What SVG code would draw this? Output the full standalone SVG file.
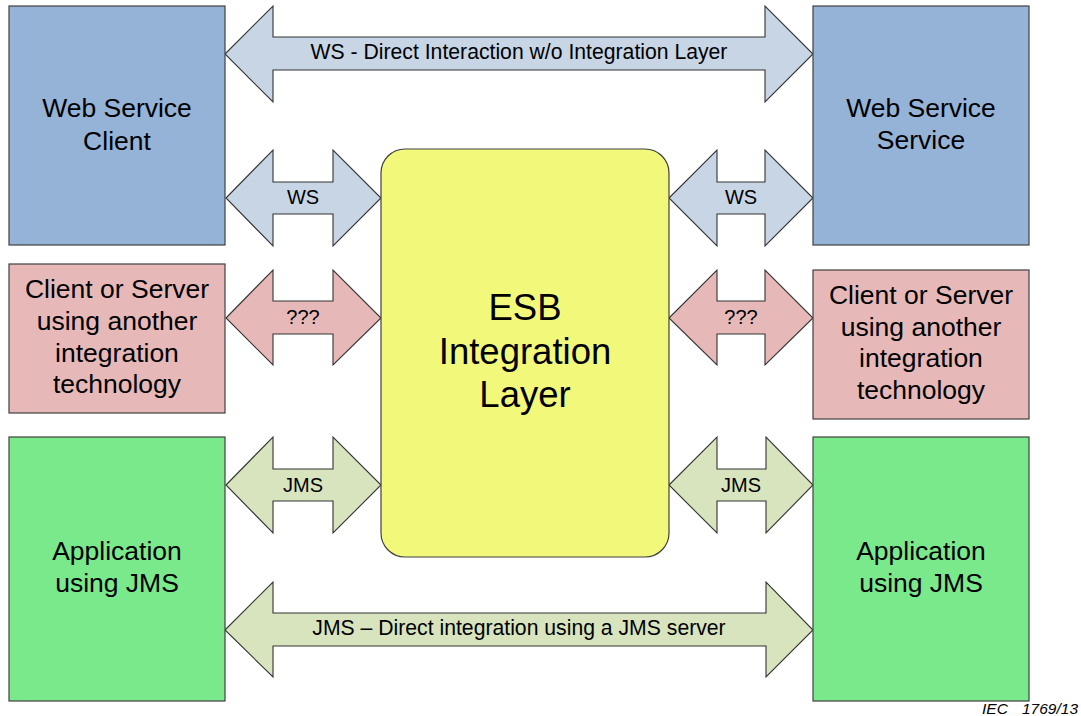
<svg xmlns="http://www.w3.org/2000/svg" width="1081" height="716" viewBox="0 0 1081 716">
<style>
text{font-family:"Liberation Sans",Arial,sans-serif;fill:#000;text-anchor:middle}
.box{stroke:#404040;stroke-width:1.2}
.blue{fill:#95B3D7}
.pink{fill:#E6B9B8}
.green{fill:#7AE98C}
.esb{fill:#F2F97A;stroke:#404040;stroke-width:1.2}
.arr{stroke:#333;stroke-width:1.1;stroke-linejoin:miter}
.ablue{fill:#C7D5E5}
.apink{fill:#E6B9B8}
.agreen{fill:#D7E4BD}
.big{font-size:26.5px}
.small{font-size:20px}
.mid{font-size:21.2px}
.cap{font-size:15.5px;font-style:italic;text-anchor:start}
</style>
<rect width="1081" height="716" fill="#fff"/>
<g id="connectors">
<polygon class="arr ablue" points="225,54 273,6 273,37 765,37 765,6 813,54 765,102 765,70 273,70 273,102"/>
<text class="mid" x="519" y="59">WS - Direct Interaction w/o Integration Layer</text>
<polygon class="arr ablue" points="226,198 273,150 273,182 333,182 333,150 381,198 333,246 333,214 273,214 273,246"/>
<text class="small" x="303" y="204">WS</text>
<polygon class="arr ablue" points="669,198 717,150 717,182 765,182 765,150 813,198 765,246 765,214 717,214 717,246"/>
<text class="small" x="741" y="204">WS</text>
<polygon class="arr apink" points="226,318 273,270 273,301 333,301 333,270 381,318 333,365 333,334 273,334 273,365"/>
<text class="small" x="303" y="324">???</text>
<polygon class="arr apink" points="669,318 717,270 717,301 765,301 765,270 813,318 765,365 765,334 717,334 717,365"/>
<text class="small" x="741" y="324">???</text>
<polygon class="arr agreen" points="226,485 273,437 273,469 333,469 333,437 381,485 333,533 333,501 273,501 273,533"/>
<text class="small" x="303" y="492">JMS</text>
<polygon class="arr agreen" points="669,485 717,437 717,469 766,469 766,437 813,485 766,533 766,501 717,501 717,533"/>
<text class="small" x="741" y="492">JMS</text>
<polygon class="arr agreen" points="225,630 273,582 273,613 766,613 766,582 813,630 766,677 766,646 273,646 273,677"/>
<text class="mid" x="519" y="635">JMS – Direct integration using a JMS server</text>
</g>
<g id="ws-client">
<rect class="box blue" x="9" y="6" width="216" height="239"/>
<text class="big" x="117" y="117">Web Service</text>
<text class="big" x="117" y="150">Client</text>
</g>
<g id="ws-service">
<rect class="box blue" x="813" y="6" width="216" height="239"/>
<text class="big" x="921" y="117">Web Service</text>
<text class="big" x="921" y="149">Service</text>
</g>
<g id="other-left">
<rect class="box pink" x="9" y="264" width="216" height="149"/>
<text class="big" x="117" y="298">Client or Server</text>
<text class="big" x="117" y="330">using another</text>
<text class="big" x="117" y="362">integration</text>
<text class="big" x="117" y="393">technology</text>
</g>
<g id="other-right">
<rect class="box pink" x="813" y="270" width="216" height="149"/>
<text class="big" x="921" y="304">Client or Server</text>
<text class="big" x="921" y="336">using another</text>
<text class="big" x="921" y="367">integration</text>
<text class="big" x="921" y="399">technology</text>
</g>
<g id="jms-left">
<rect class="box green" x="9" y="437" width="216" height="264"/>
<text class="big" x="117" y="560">Application</text>
<text class="big" x="117" y="592">using JMS</text>
</g>
<g id="jms-right">
<rect class="box green" x="813" y="437" width="216" height="264"/>
<text class="big" x="921" y="560">Application</text>
<text class="big" x="921" y="592">using JMS</text>
</g>
<g id="esb">
<rect class="esb" x="381" y="149" width="288" height="408" rx="24" ry="24"/>
<text x="525" y="320" style="font-size:36.5px">ESB</text>
<text x="525" y="364" style="font-size:36.5px">Integration</text>
<text x="525" y="407" style="font-size:36.5px">Layer</text>
</g>
<g id="caption">
<text class="cap" x="982" y="714">IEC</text>
<text class="cap" x="1022" y="714">1769/13</text>
</g>
</svg>
